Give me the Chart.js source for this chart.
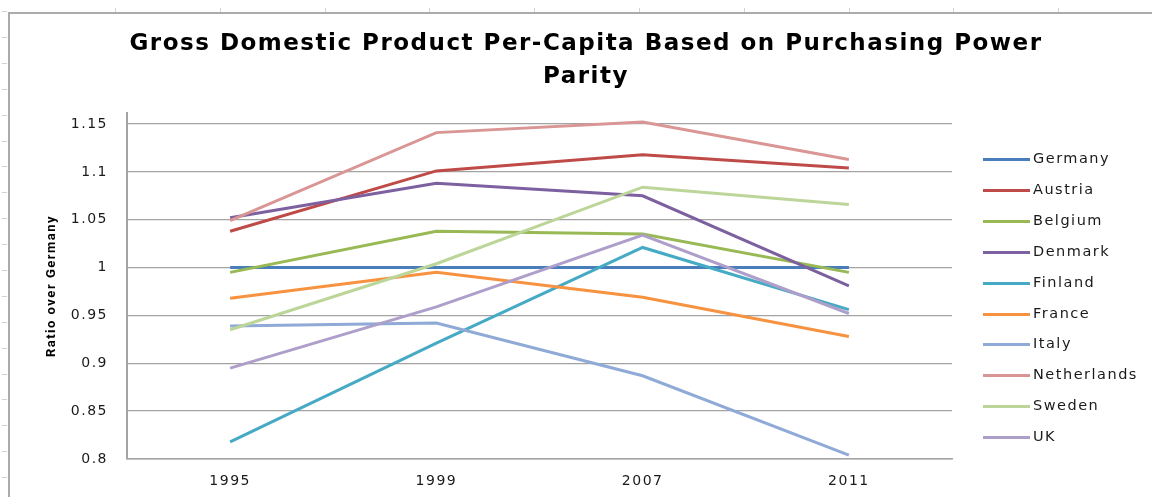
<!DOCTYPE html>
<html>
<head>
<meta charset="utf-8">
<title>GDP per capita (PPP) ratio over Germany</title>
<script src="https://cdn.jsdelivr.net/npm/chart.js@4.4.1/dist/chart.umd.min.js"></script>
<style>
    html, body { margin: 0; padding: 0; background: #fff; }
    #wrap { width: 1152px; height: 497px; position: relative; }
</style>
</head>
<body>
<div id="wrap"><canvas id="gdpChart" width="1152" height="497"></canvas></div>
<script>
// Data
const years = ['1995', '1999', '2007', '2011'];
const countries = ['Germany', 'Austria', 'Belgium', 'Denmark', 'Finland', 'France', 'Italy', 'Netherlands', 'Sweden', 'UK'];
const germany     = [1.0, 1.0, 1.0, 1.0];
const austria     = [1.038, 1.101, 1.118, 1.104];
const belgium     = [0.995, 1.038, 1.035, 0.995];
const denmark     = [1.052, 1.088, 1.075, 0.981];
const finland     = [0.818, 0.921, 1.021, 0.956];
const france      = [0.968, 0.995, 0.969, 0.928];
const italy       = [0.939, 0.942, 0.887, 0.804];
const netherlands = [1.049, 1.141, 1.152, 1.113];
const sweden      = [0.935, 1.004, 1.084, 1.066];
const uk          = [0.895, 0.959, 1.034, 0.952];
const seriesValues = [germany, austria, belgium, denmark, finland, france, italy, netherlands, sweden, uk];
const seriesColors = ['#4A7EBB', '#BE4B48', '#98B954', '#7D60A0', '#46AAC5', '#F69240', '#8FAAD6', '#D99694', '#BCD598', '#AE9FCA'];
const yTicks = [0.8, 0.85, 0.9, 0.95, 1, 1.05, 1.1, 1.15];

const textColor = '#1a1a1a';
const gridColor = '#a3a3a3';

// sheet border + cell marks behind the chart, and letter spacing for all text
const sheetBackground = {
    id: 'sheetBackground',
    beforeDraw(chart) {
        const ctx = chart.ctx;
        ctx.save();
        ctx.fillStyle = '#fff';
        ctx.fillRect(0, 0, chart.width, chart.height);
        ctx.strokeStyle = '#cdd3dd';
        ctx.lineWidth = 1;
        for (let y = 11; y < chart.height; y += 25.9) {
            ctx.beginPath();
            ctx.moveTo(2, Math.round(y) + 0.5);
            ctx.lineTo(7, Math.round(y) + 0.5);
            ctx.stroke();
        }
        for (let x = 115; x < chart.width; x += 104.8) {
            ctx.beginPath();
            ctx.moveTo(Math.round(x) + 0.5, 8);
            ctx.lineTo(Math.round(x) + 0.5, 12);
            ctx.stroke();
        }
        ctx.strokeStyle = '#ababab';
        ctx.lineWidth = 2;
        ctx.beginPath();
        ctx.moveTo(9, chart.height);
        ctx.lineTo(9, 13);
        ctx.lineTo(chart.width, 13);
        ctx.stroke();
        ctx.restore();
        ctx.letterSpacing = '1.5px';
    }
};

// legend on the right: short line + country name
const sideLegend = {
    id: 'sideLegend',
    afterDraw(chart) {
        const ctx = chart.ctx;
        const area = chart.chartArea;
        const x0 = area.right + 31;
        const y0 = area.top + 46;
        ctx.save();
        ctx.letterSpacing = '1.5px';
        ctx.font = '14.5px "DejaVu Sans"';
        ctx.textBaseline = 'middle';
        ctx.textAlign = 'left';
        chart.data.datasets.forEach((ds, i) => {
            const y = Math.round(y0 + i * 30.9) + 0.5;
            ctx.strokeStyle = ds.borderColor;
            ctx.lineWidth = 3;
            ctx.beginPath();
            ctx.moveTo(x0, y);
            ctx.lineTo(x0 + 47, y);
            ctx.stroke();
            ctx.fillStyle = textColor;
            ctx.fillText(ds.label, x0 + 50, y);
        });
        ctx.restore();
    }
};

const datasets = countries.map((name, i) => ({
    label: name,
    data: seriesValues[i],
    borderColor: seriesColors[i],
    backgroundColor: seriesColors[i],
    borderWidth: 3,
    pointRadius: 0,
    pointHoverRadius: 0,
    tension: 0,
    fill: false,
    order: countries.length - i
}));

const ctx = document.getElementById('gdpChart').getContext('2d');
new Chart(ctx, {
    type: 'line',
    data: { labels: years, datasets: datasets },
    options: {
        responsive: false,
        animation: false,
        devicePixelRatio: 1,
        layout: { padding: { left: 20, right: 0, top: 0, bottom: 0 } },
        plugins: {
            legend: { display: false },
            tooltip: { enabled: false },
            title: {
                display: true,
                text: ['Gross Domestic Product Per-Capita Based on Purchasing Power', 'Parity'],
                color: '#000',
                font: { family: '"DejaVu Sans"', size: 23, weight: 'bold', lineHeight: 33 / 23 },
                padding: { top: 27.5, bottom: 19.5 }
            }
        },
        scales: {
            x: {
                type: 'category',
                offset: true,
                grid: { display: false, drawTicks: false },
                border: { display: true, color: gridColor, width: 1.5 },
                ticks: {
                    color: textColor,
                    font: { family: '"DejaVu Sans"', size: 14 },
                    padding: 14,
                    maxRotation: 0
                },
                afterFit: s => { s.height = 38; }
            },
            y: {
                min: 0.8,
                max: 1.1615,
                afterBuildTicks: s => { s.ticks = yTicks.map(v => ({ value: v })); },
                grid: { color: gridColor, lineWidth: 1.3, drawTicks: false },
                border: { display: true, color: gridColor, width: 2 },
                ticks: {
                    color: textColor,
                    font: { family: '"DejaVu Sans"', size: 14 },
                    padding: 19,
                    callback: v => String(+Number(v).toFixed(2))
                },
                title: {
                    display: true,
                    text: 'Ratio over Germany',
                    color: '#000',
                    font: { family: 'Roboto', size: 13, weight: 'bold' },
                    padding: { top: 24, bottom: 0 }
                },
                afterFit: s => { s.width = 107; }
            },
            legendSpace: {
                type: 'linear',
                position: 'right',
                display: true,
                grid: { display: false, drawTicks: false },
                border: { display: false },
                ticks: { display: false },
                afterFit: s => { s.width = 200; }
            }
        }
    },
    plugins: [sheetBackground, sideLegend]
});
</script>
</body>
</html>
